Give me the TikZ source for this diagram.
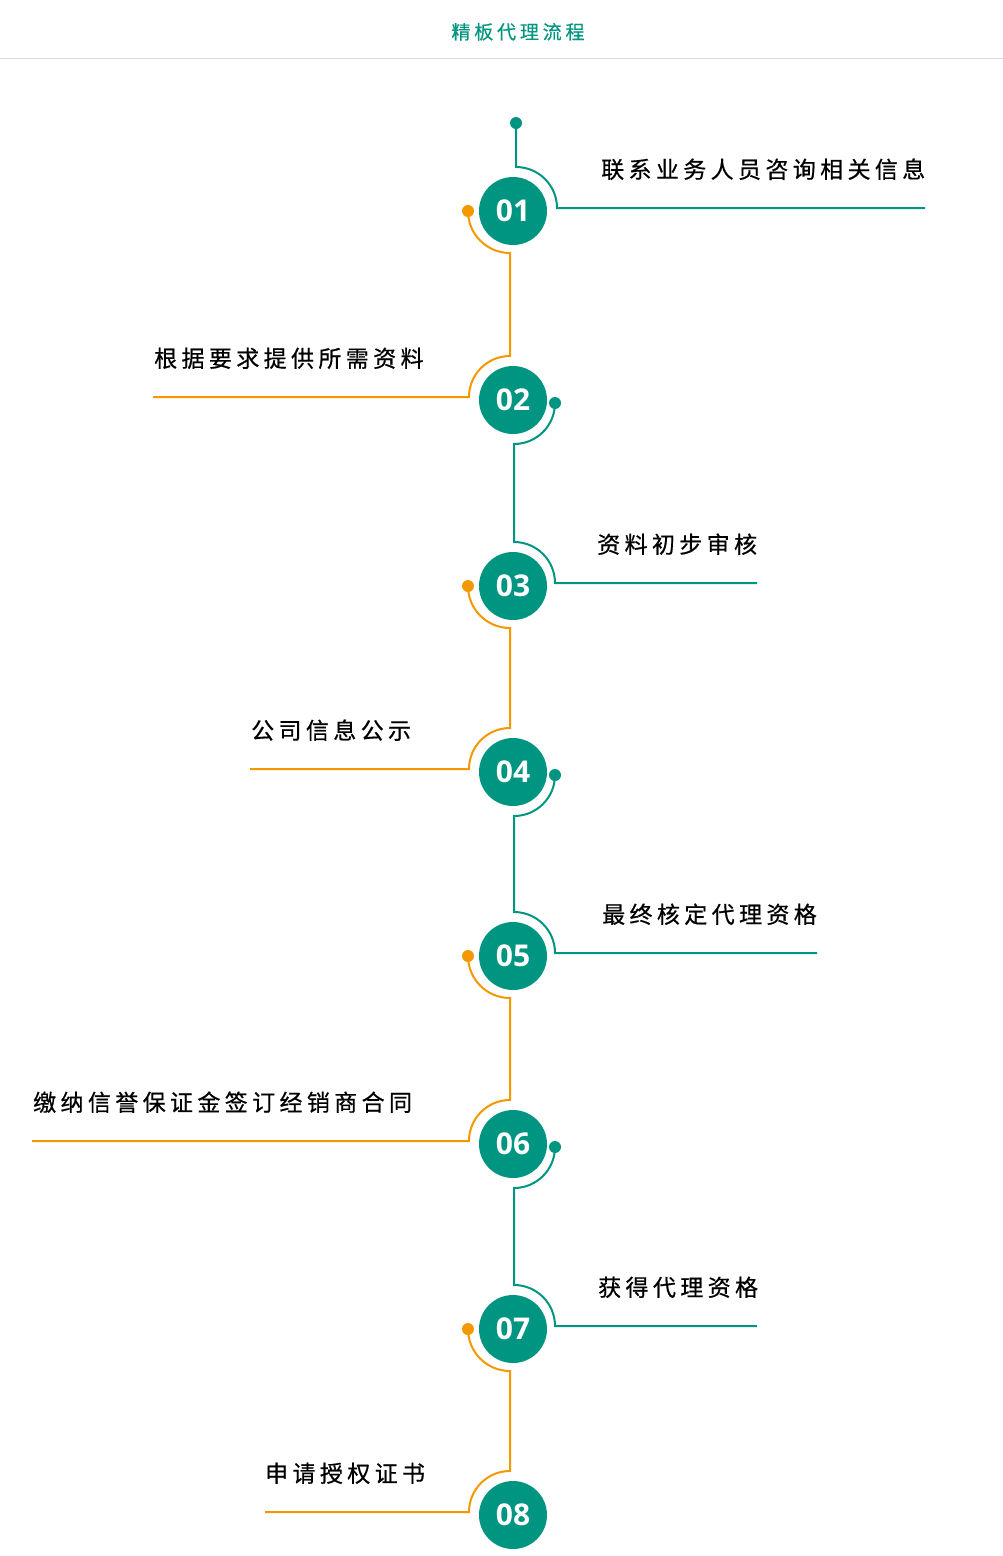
\documentclass[tikz,border=0pt]{standalone}
\usepackage{fontspec}
\newfontfamily\cjk[LetterSpace=19,FakeBold=0.6]{Noto Sans CJK SC}
\newfontfamily\cjktitle[LetterSpace=20,FakeBold=0.4]{Noto Sans CJK SC}
\newfontfamily\numfont{Open Sans}
\definecolor{teal1}{HTML}{009580}
\definecolor{orange1}{HTML}{F39800}
\begin{document}
\begin{tikzpicture}[x=1pt,y=1pt,
  tl/.style={draw=teal1,line width=2pt},
  ol/.style={draw=orange1,line width=2pt},
  stepcirc/.style={circle,fill=teal1,minimum size=68pt,inner sep=0pt,text=white,font=\numfont\bfseries\fontsize{30}{30}\selectfont},
  dotT/.style={circle,fill=teal1,minimum size=12pt,inner sep=0pt},
  dotO/.style={circle,fill=orange1,minimum size=12pt,inner sep=0pt},
  lbl/.style={font=\cjk\fontsize{23}{23}\selectfont,inner sep=0pt,anchor=base west,text=black}
]
\useasboundingbox (0,0) rectangle (1003,-1556);
% title
\node[font=\cjktitle\fontsize{19}{19}\selectfont,text=teal1,anchor=base,inner sep=0pt] (title) at (518,-39) {精板代理流程};
\coordinate (gl) at (0,-58);
\coordinate (gr) at (1003,-58);
\draw[black!15,line width=1pt] (gl) -- (gr);

% circles
\node[stepcirc] (s1) at (513,-211) {01};
\node[stepcirc] (s2) at (513,-400) {02};
\node[stepcirc] (s3) at (513,-586) {03};
\node[stepcirc] (s4) at (513,-772) {04};
\node[stepcirc] (s5) at (513,-956) {05};
\node[stepcirc] (s6) at (513,-1144) {06};
\node[stepcirc] (s7) at (513,-1329) {07};
\node[stepcirc] (s8) at (513,-1515) {08};

% dot positions
\coordinate (t0) at (516,-123);
\coordinate (t2) at (555,-403);
\coordinate (t4) at (555,-775);
\coordinate (t6) at (555,-1147);
\coordinate (o1) at (468,-211);
\coordinate (o3) at (468,-586);
\coordinate (o5) at (468,-956);
\coordinate (o7) at (468,-1329);

% line end coordinates
\coordinate (e1) at (925,-208);
\coordinate (e3) at (757,-583);
\coordinate (e5) at (817,-953);
\coordinate (e7) at (757,-1326);
\coordinate (e2) at (153,-397);
\coordinate (e4) at (250,-769);
\coordinate (e6) at (32,-1141);
\coordinate (e8) at (265,-1512);

% teal connectors
\draw[tl] (t0) -- (516,-167) arc[start angle=90,end angle=0,radius=41] -- (e1);
\draw[tl] (t2) arc[start angle=0,end angle=-90,radius=41] -- (514,-542) arc[start angle=90,end angle=0,radius=41] -- (e3);
\draw[tl] (t4) arc[start angle=0,end angle=-90,radius=41] -- (514,-912) arc[start angle=90,end angle=0,radius=41] -- (e5);
\draw[tl] (t6) arc[start angle=0,end angle=-90,radius=41] -- (514,-1285) arc[start angle=90,end angle=0,radius=41] -- (e7);

% orange connectors
\draw[ol] (o1) arc[start angle=180,end angle=270,radius=42] -- (510,-356) arc[start angle=90,end angle=180,radius=41] -- (e2);
\draw[ol] (o3) arc[start angle=180,end angle=270,radius=42] -- (510,-728) arc[start angle=90,end angle=180,radius=41] -- (e4);
\draw[ol] (o5) arc[start angle=180,end angle=270,radius=42] -- (510,-1100) arc[start angle=90,end angle=180,radius=41] -- (e6);
\draw[ol] (o7) arc[start angle=180,end angle=270,radius=42] -- (510,-1471) arc[start angle=90,end angle=180,radius=41] -- (e8);

% dots on top
\node[dotT] (d0) at (t0) {};
\node[dotT] (d2) at (t2) {};
\node[dotT] (d4) at (t4) {};
\node[dotT] (d6) at (t6) {};
\node[dotO] (d1) at (o1) {};
\node[dotO] (d3) at (o3) {};
\node[dotO] (d5) at (o5) {};
\node[dotO] (d7) at (o7) {};

% labels
\node[lbl] (l1) at (601,-178) {联系业务人员咨询相关信息};
\node[lbl] (l2) at (154,-367) {根据要求提供所需资料};
\node[lbl] (l3) at (597,-553) {资料初步审核};
\node[lbl] (l4) at (251,-739) {公司信息公示};
\node[lbl] (l5) at (602,-923) {最终核定代理资格};
\node[lbl] (l6) at (33,-1111) {缴纳信誉保证金签订经销商合同};
\node[lbl] (l7) at (598,-1296) {获得代理资格};
\node[lbl] (l8) at (265,-1482) {申请授权证书};
\end{tikzpicture}
\end{document}
